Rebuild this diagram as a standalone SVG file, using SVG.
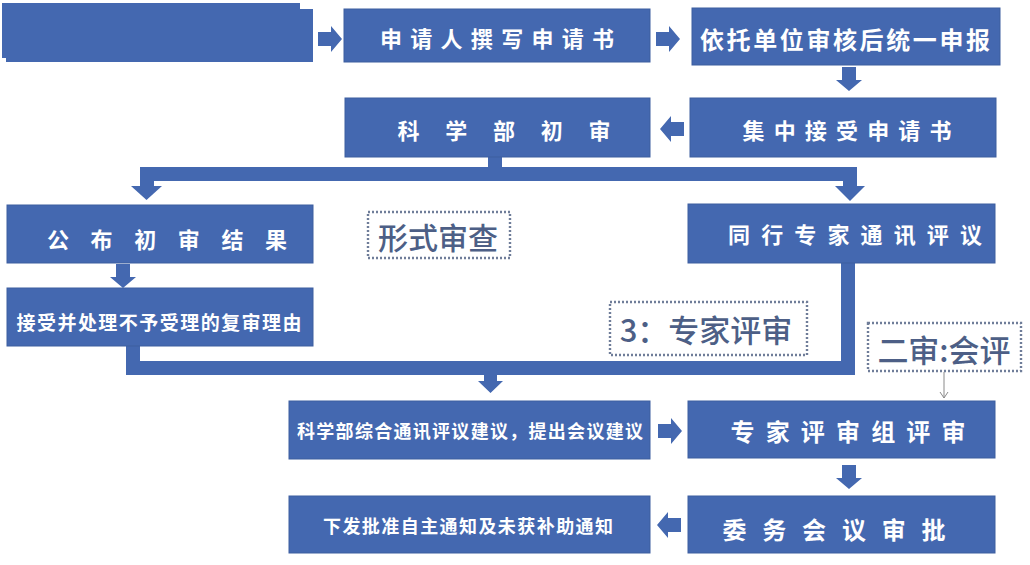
<svg xmlns="http://www.w3.org/2000/svg" width="1030" height="565" viewBox="0 0 1030 565">
<style>
.box{fill:#4468b0;stroke:#3d5e9f;stroke-width:1}
.t{fill:#ffffff;font-family:"Noto Sans CJK SC","Noto Sans",sans-serif;font-weight:bold;text-anchor:middle;dominant-baseline:central}
.note{fill:#ffffff;stroke:#6f7d99;stroke-width:2.4;stroke-dasharray:2 2}
.nt{fill:#4d5f86;font-family:"Noto Sans CJK SC","Noto Sans",sans-serif;font-weight:500;text-anchor:middle;dominant-baseline:central}
.bar{fill:none;stroke:#4468b0;stroke-width:14;stroke-linejoin:miter;stroke-linecap:butt}
.ah{fill:#4468b0}
</style>
<defs>
<path id="ra" d="M0,-7 H13 V-13 L24,0 L13,13 V7 H0 Z" class="ah"/>
<marker id="thin" markerWidth="10" markerHeight="10" refX="9" refY="5" orient="auto" markerUnits="userSpaceOnUse" viewBox="0 0 10 10">
<path d="M3,1 L9,5 L3,9" fill="none" stroke="#8a8a8a" stroke-width="1"/>
</marker>
</defs>
<rect width="1030" height="565" fill="#ffffff"/>

<g id="connectors">
<use href="#ra" transform="translate(318,39)"/>
<use href="#ra" transform="translate(656,39)"/>
<use href="#ra" transform="translate(849,67) rotate(90)"/>
<use href="#ra" transform="translate(684,129) rotate(180)"/>
<path class="bar" d="M495,157 V174"/>
<path class="bar" d="M147,188 V174 H850 V188"/>
<path class="ah" d="M131,186 H162 L146.5,200 Z"/>
<path class="ah" d="M835,186 H865 L850,201 Z"/>
<use href="#ra" transform="translate(123,264) rotate(90)"/>
<path class="bar" d="M133,346 V368 H848 V262"/>
<path class="ah" d="M484,375 H497 V381 H503 L490.5,393 L478,381 H484 Z"/>
<line x1="944" y1="372" x2="944" y2="398" stroke="#8a8a8a" stroke-width="1" marker-end="url(#thin)"/>
<use href="#ra" transform="translate(658,431)"/>
<use href="#ra" transform="translate(849,465) rotate(90)"/>
<use href="#ra" transform="translate(681,525) rotate(180)"/>
</g>

<g id="n0">
<rect x="6" y="9" width="307" height="53" fill="#4468b0"/>
<rect x="2" y="3" width="298" height="55" fill="#4468b0"/>
</g>
<g id="n1">
<rect class="box" x="344" y="9" width="306" height="53"/>
<text class="t" x="497" y="37" font-size="22" textLength="234" lengthAdjust="spacing">申请人撰写申请书</text>
</g>
<g id="n2">
<rect class="box" x="692" y="8" width="308" height="57"/>
<text class="t" x="845" y="38" font-size="24" textLength="290" lengthAdjust="spacing">依托单位审核后统一申报</text>
</g>
<g id="n3">
<rect class="box" x="690" y="98" width="306" height="59"/>
<text class="t" x="847" y="129" font-size="22" textLength="209" lengthAdjust="spacing">集中接受申请书</text>
</g>
<g id="n4">
<rect class="box" x="345" y="98" width="305" height="59"/>
<text class="t" x="504" y="129" font-size="22" textLength="213" lengthAdjust="spacing">科学部初审</text>
</g>
<g id="n5">
<rect class="box" x="7" y="205" width="306" height="58"/>
<text class="t" x="167" y="238" font-size="22" textLength="240" lengthAdjust="spacing">公布初审结果</text>
</g>
<g id="n6">
<rect class="note" x="368" y="212" width="142" height="46"/>
<text class="nt" x="438" y="236" font-size="30">形式审查</text>
</g>
<g id="n7">
<rect class="box" x="688" y="204" width="307" height="59"/>
<text class="t" x="855" y="233" font-size="22" textLength="254" lengthAdjust="spacing">同行专家通讯评议</text>
</g>
<g id="n8">
<rect class="box" x="7" y="288" width="306" height="58"/>
<text class="t" x="159" y="321" font-size="19" textLength="285" lengthAdjust="spacing">接受并处理不予受理的复审理由</text>
</g>
<g id="n9">
<rect class="note" x="610" y="302" width="197" height="53"/>
<text class="nt" x="706" y="328" font-size="31" font-weight="bold">3：专家评审</text>
</g>
<g id="n10">
<rect class="note" x="868" y="323" width="153" height="48"/>
<text class="nt" x="944" y="348" font-size="31">二审:会评</text>
</g>
<g id="n11">
<rect class="box" x="289" y="401" width="361" height="58"/>
<text class="t" x="470" y="430" font-size="18" textLength="346" lengthAdjust="spacing">科学部综合通讯评议建议，提出会议建议</text>
</g>
<g id="n12">
<rect class="box" x="688" y="401" width="307" height="57"/>
<text class="t" x="848" y="430" font-size="24" textLength="235" lengthAdjust="spacing">专家评审组评审</text>
</g>
<g id="n13">
<rect class="box" x="688" y="496" width="307" height="57"/>
<text class="t" x="834" y="528" font-size="24" textLength="223" lengthAdjust="spacing">委务会议审批</text>
</g>
<g id="n14">
<rect class="box" x="289" y="496" width="361" height="57"/>
<text class="t" x="468" y="525" font-size="18" textLength="290" lengthAdjust="spacing">下发批准自主通知及未获补助通知</text>
</g>
</svg>
